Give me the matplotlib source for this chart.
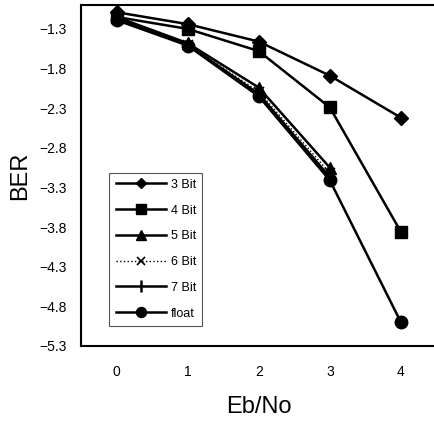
import numpy as np
import matplotlib
matplotlib.use("Agg")
import matplotlib.pyplot as plt

plt.rcParams['font.family'] = ['Liberation Sans', 'DejaVu Sans']

ebno = [0, 1, 2, 3, 4]
ber_3bit = [-1.09, -1.24, -1.46, -1.89, -2.42]
ber_4bit = [-1.15, -1.30, -1.58, -2.29, -3.86]
ber_5bit = [-1.15, -1.48, -2.04, -3.05, np.nan]
ber_6bit = [-1.17, -1.50, -2.09, -3.12, np.nan]
ber_7bit = [-1.18, -1.50, -2.12, -3.17, np.nan]
ber_float = [-1.19, -1.51, -2.15, -3.21, -5.00]
yticks = [-1.3, -1.8, -2.3, -2.8, -3.3, -3.8, -4.3, -4.8, -5.3]

fig = plt.figure(figsize=(4.34, 4.24), dpi=100)
ax = fig.add_axes([0.1866, 0.184, 0.819, 0.804])

ax.plot(ebno, ber_3bit, 'k-', marker='D', ms=7, lw=1.8, label='3 Bit')
ax.plot(ebno, ber_4bit, 'k-', marker='s', ms=9, lw=1.8, label='4 Bit')
ax.plot(ebno, ber_5bit, 'k-', marker='^', ms=9, lw=1.8, label='5 Bit')
ax.plot(ebno, ber_6bit, 'k:', marker='x', ms=7, lw=1.0, mew=1.2, label='6 Bit')
ax.plot(ebno, ber_7bit, 'k-', marker='|', ms=10, lw=1.8, mew=1.8, label='7 Bit')
ax.plot(ebno, ber_float, 'k-', marker='o', ms=9, lw=1.8, label='float')

ax.set_xlim(-0.5, 4.5)
ax.set_ylim(-5.3, -1.0)
ax.set_xticks(ebno)
ax.set_yticks(yticks)
ax.set_yticklabels([str(v).replace('-', '\u2212') for v in yticks])
ax.tick_params(length=0, labelsize=10, colors='black')
ax.tick_params(axis='x', pad=14)
ax.tick_params(axis='y', pad=10)
for s in ax.spines.values():
    s.set_linewidth(1.5)

ax.set_xlabel('Eb/No', fontsize=17, labelpad=12)
ax.set_ylabel('BER', fontsize=17, labelpad=6)

leg = ax.legend(loc='lower left', bbox_to_anchor=(0.062, 0.041), fontsize=9,
                handlelength=4.0, labelspacing=1.1, fancybox=False,
                framealpha=1, edgecolor='#555555', borderpad=0.5,
                handletextpad=0.4, markerscale=0.8)
leg.get_frame().set_linewidth(0.8)

fig.savefig('out.png', dpi=100)
